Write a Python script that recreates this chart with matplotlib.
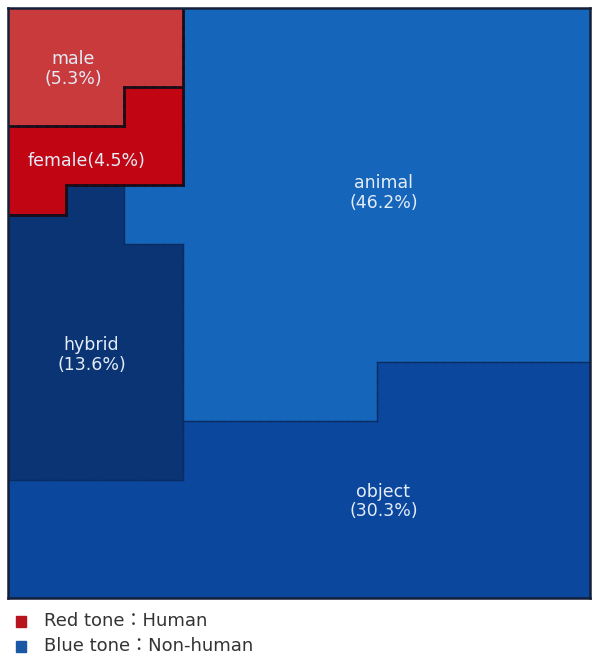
import numpy as np
import matplotlib.pyplot as plt
from matplotlib.colors import ListedColormap
from matplotlib.collections import LineCollection

# categories and their shares (%)
categories = ["male", "female", "hybrid", "animal", "object"]
shares = [5.3, 4.5, 13.6, 46.2, 30.3]
label_sep = ["\n", "", "\n", "\n", "\n"]
colors = ["#c93a3d", "#c20512", "#0a3473", "#1565ba", "#0a479d"]

legend_labels = ["Red tone：Human", "Blue tone：Non-human"]
legend_colors = ["#b8141e", "#1a58a6"]

# block layout of the 60x60 cell grid (M=male, F=female, H=hybrid, A=animal, O=object)
layout = [
    "MMMAA",
    "MMFAA",
    "FFFAA",
    "FHAAA",
    "HHAAA",
    "HHHAA",
    "HHHAO",
    "HHHOO",
    "OOOOO",
]
row_span = [8, 4, 6, 3, 3, 12, 6, 6, 12]
col_span = [6, 6, 6, 20, 22]

code = {"M": 0, "F": 1, "H": 2, "A": 3, "O": 4}
grid = np.array([[code[c] for c in row] for row in layout])
grid = np.repeat(np.repeat(grid, row_span, axis=0), col_span, axis=1)
nr, nc = grid.shape

fig = plt.figure(figsize=(5.92, 6.59), dpi=100)
ax = fig.add_axes([0.0135, 0.0926, 0.983, 0.895])
ax.imshow(grid, cmap=ListedColormap(colors), vmin=-0.5, vmax=4.5,
          extent=(0, nc, nr, 0), interpolation="nearest", aspect="auto")

# borders between different categories
red_segs, blue_segs = [], []
for i in range(nr):
    for j in range(nc):
        if i + 1 < nr and grid[i, j] != grid[i + 1, j]:
            seg = [(j, i + 1), (j + 1, i + 1)]
            (red_segs if min(grid[i, j], grid[i + 1, j]) < 2 else blue_segs).append(seg)
        if j + 1 < nc and grid[i, j] != grid[i, j + 1]:
            seg = [(j + 1, i), (j + 1, i + 1)]
            (red_segs if min(grid[i, j], grid[i, j + 1]) < 2 else blue_segs).append(seg)
ax.add_collection(LineCollection(blue_segs, colors="#0b2c62", linewidths=1.0,
                                 capstyle="projecting"))
ax.add_collection(LineCollection(red_segs, colors="#1a0c18", linewidths=2.0,
                                 capstyle="projecting"))

# labels
label_pos = [(6.7, 6.2), (8.1, 15.5), (8.6, 35.3), (38.7, 18.8), (38.7, 50.2)]
for cat, pct, sep, (x, y) in zip(categories, shares, label_sep, label_pos):
    ax.text(x, y, f"{cat}{sep}({pct}%)", ha="center", va="center",
            color="#e4ecf8", fontsize=12.5, family="DejaVu Sans",
            linespacing=1.1)

ax.set_xlim(0, nc)
ax.set_ylim(nr, 0)
ax.set_xticks([])
ax.set_yticks([])
for s in ax.spines.values():
    s.set_color("#14203a")
    s.set_linewidth(1.8)

# legend below
for k, (lab, col) in enumerate(zip(legend_labels, legend_colors)):
    y = 1 - (621 + k * 25) / 659
    fig.patches.append(plt.Rectangle((16 / 592, y - 5.5 / 659), 10 / 592, 11 / 659,
                                     transform=fig.transFigure, color=col))
    fig.text(44 / 592, y, lab, ha="left", va="center", fontsize=13,
             color="#333333", family=["DejaVu Sans", "Noto Sans CJK KR"])

plt.savefig("out.png", dpi=100)
